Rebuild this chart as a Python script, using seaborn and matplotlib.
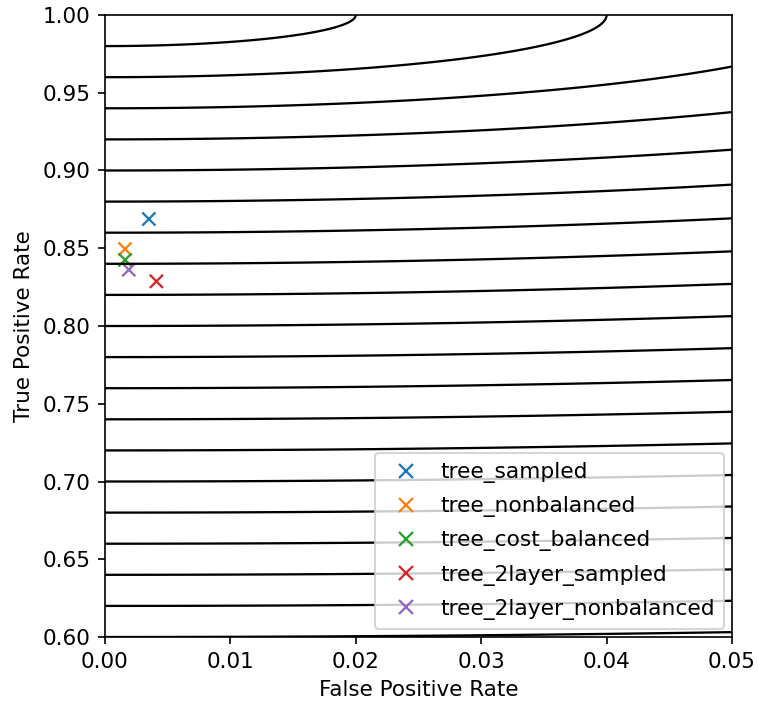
import numpy as np
import pandas as pd
import matplotlib
matplotlib.use("Agg")
import matplotlib.pyplot as plt
import seaborn as sns

# classifier results (false positive rate, true positive rate)
models = ["tree_sampled", "tree_nonbalanced", "tree_cost_balanced",
          "tree_2layer_sampled", "tree_2layer_nonbalanced"]
fpr = [0.0035, 0.0016, 0.0016, 0.0041, 0.0019]
tpr = [0.8688, 0.8495, 0.8425, 0.8287, 0.8362]

# iso-distance levels from the perfect classifier (0, 1)
dist_levels = [0.02, 0.04, 0.06, 0.08, 0.10, 0.12, 0.14, 0.16, 0.18, 0.20,
               0.22, 0.24, 0.26, 0.28, 0.30, 0.32, 0.34, 0.36, 0.38, 0.40]

plt.rcParams['font.family'] = ['DejaVu Sans']
plt.rcParams['font.size'] = 10.3

fig = plt.figure(figsize=(758 / 150, 710 / 150), dpi=150)
ax = fig.add_axes([0.1385, 0.1028, 0.8272, 0.8761])

# distance to the ideal point on a grid covering the axes
gx, gy = np.meshgrid(np.linspace(0, 0.05, 400), np.linspace(0.6, 1.0, 400))
dist = np.sqrt(gx ** 2 + (1 - gy) ** 2)
ax.contour(gx, gy, dist, levels=dist_levels, colors="k", linewidths=1.1)

df = pd.DataFrame({"model": models, "fpr": fpr, "tpr": tpr})
sns.scatterplot(data=df, x="fpr", y="tpr", hue="model", palette="tab10",
                marker="x", s=40, linewidth=1.1, ax=ax)

ax.set_xlim(0, 0.05)
ax.set_ylim(0.6, 1.0)
ax.set_xticks([0.0, 0.01, 0.02, 0.03, 0.04, 0.05])
ax.set_yticks([0.60, 0.65, 0.70, 0.75, 0.80, 0.85, 0.90, 0.95, 1.00])
ax.set_xlabel("False Positive Rate")
ax.set_ylabel("True Positive Rate")
ax.legend(loc="lower right", title=None, fontsize=10.45,
          labelspacing=0.6, handletextpad=0.55, borderpad=0.45,
          borderaxespad=0.35)

fig.savefig("out.png", dpi=150)
